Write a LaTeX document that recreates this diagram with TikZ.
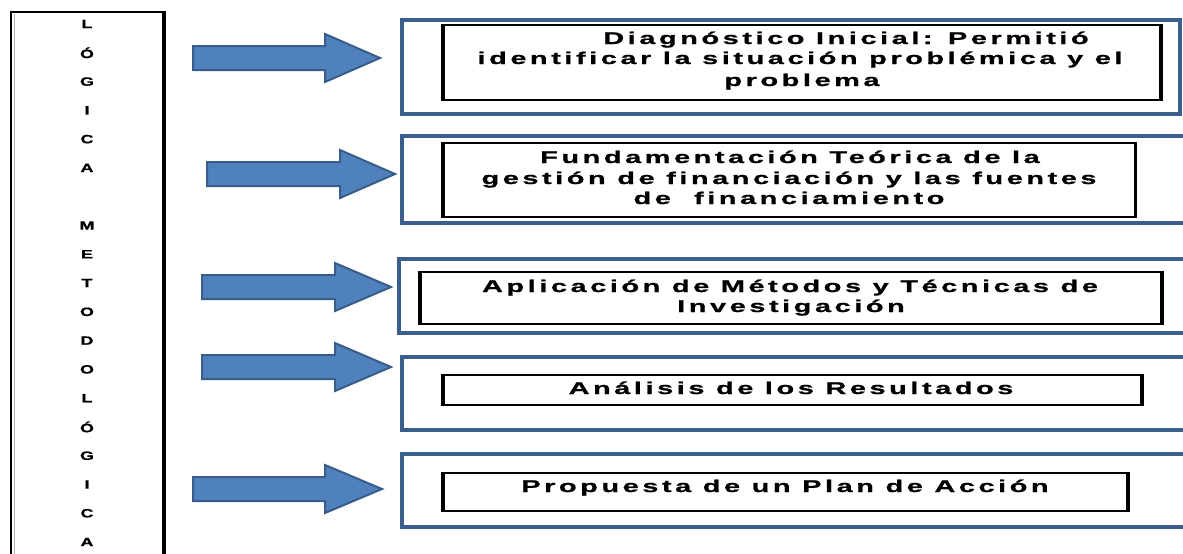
\documentclass[tikz,border=0pt]{standalone}
\usepackage{fontspec}
\setmainfont{Liberation Sans}
\newfontfamily\boxfont{Liberation Sans}[FakeStretch=1.7,LetterSpace=21,FakeBold=1]
\newfontfamily\sidefont{Liberation Sans}[FakeStretch=1.5,FakeBold=0.8]
\definecolor{outerblue}{HTML}{3A5F8E}
\definecolor{arrowfill}{HTML}{4F81BD}
\definecolor{arrowline}{HTML}{385D8A}
\newcommand\bigarrow[4]{%
  \draw[arrowshape] (#1,#4-12) -- (#2,#4-12) -- (#2,#4-24) -- (#3,#4) -- (#2,#4+24) -- (#2,#4+12) -- (#1,#4+12) -- cycle;}
\newcommand\innerbox[5]{%
  \draw[inner] (#1,#2) rectangle (#3,#4);
  \draw[line width=3.5pt] (#1+1,#2) -- (#1+1,#4);
  \draw[line width=#5] (#3-1,#2) -- (#3-1,#4);}
\begin{document}
\begin{tikzpicture}[x=1pt,y=-1pt,
  outer/.style={draw=outerblue, line width=4.5pt},
  inner/.style={draw=black, line width=1.4pt},
  arrowshape/.style={fill=arrowfill, draw=arrowline, line width=2pt, line join=miter},
  txt/.style={anchor=base, inner sep=0pt, font=\boxfont\bfseries\fontsize{17}{20}\selectfont},
  side/.style={inner sep=0pt, font=\sidefont\bfseries\fontsize{12}{14}\selectfont}
]
\useasboundingbox (0,0) rectangle (1183,554);
\clip (0,0) rectangle (1183,554);

% left column box
\draw[line width=1.6pt] (11,570) -- (11,12) -- (164,12);
\draw[line width=4pt] (164,11) -- (164,570);
\draw[gray!60, line width=1pt] (14,14) -- (14,570);
\foreach \i/\ch in {0/L,1/Ó,2/G,3/I,4/C,5/A,7/M,8/E,9/T,10/O,11/D,12/O,13/L,14/Ó,15/G,16/I,17/C,18/A}
  \node[side] (s\i) at (87,24+28.78*\i) {\ch};

% arrows
\bigarrow{193}{325}{380}{58}
\bigarrow{207}{340}{395}{174}
\bigarrow{202}{335}{391}{287}
\bigarrow{202}{335}{391}{367}
\bigarrow{193}{325}{382}{489}

% outer boxes
\draw[outer] (402,20) rectangle (1180,114);
\draw[outer] (402,136) rectangle (1200,223);
\draw[outer] (399,259) rectangle (1200,333);
\draw[outer] (402,357) rectangle (1200,430);
\draw[outer] (402,454) rectangle (1200,527);

% inner boxes
\innerbox{442}{25}{1162}{100}{3.5pt}
\innerbox{442}{143}{1136}{217}{2pt}
\innerbox{419}{272}{1163}{324}{3.5pt}
\innerbox{442}{375}{1143}{405}{3.5pt}
\innerbox{442}{473}{1129}{511}{3.5pt}

% texts
\node[txt] (t1a) at (846,44) {Diagnóstico Inicial: Permitió};
\node[txt] (t1b) at (800,64) {identificar la situación problémica y el};
\node[txt] (t1c) at (802,86) {problema};
\node[txt] (t2a) at (790,163) {Fundamentación Teórica de la};
\node[txt] (t2b) at (789,184) {gestión de financiación y las fuentes};
\node[txt] (t2c) at (789,204) {de\ \ financiamiento};
\node[txt] (t3a) at (790,292) {Aplicación de Métodos y Técnicas de};
\node[txt] (t3b) at (791,312) {Investigación};
\node[txt] (t4) at (791,394) {Análisis de los Resultados};
\node[txt] (t5) at (785,492) {Propuesta de un Plan de Acción};
\end{tikzpicture}
\end{document}
